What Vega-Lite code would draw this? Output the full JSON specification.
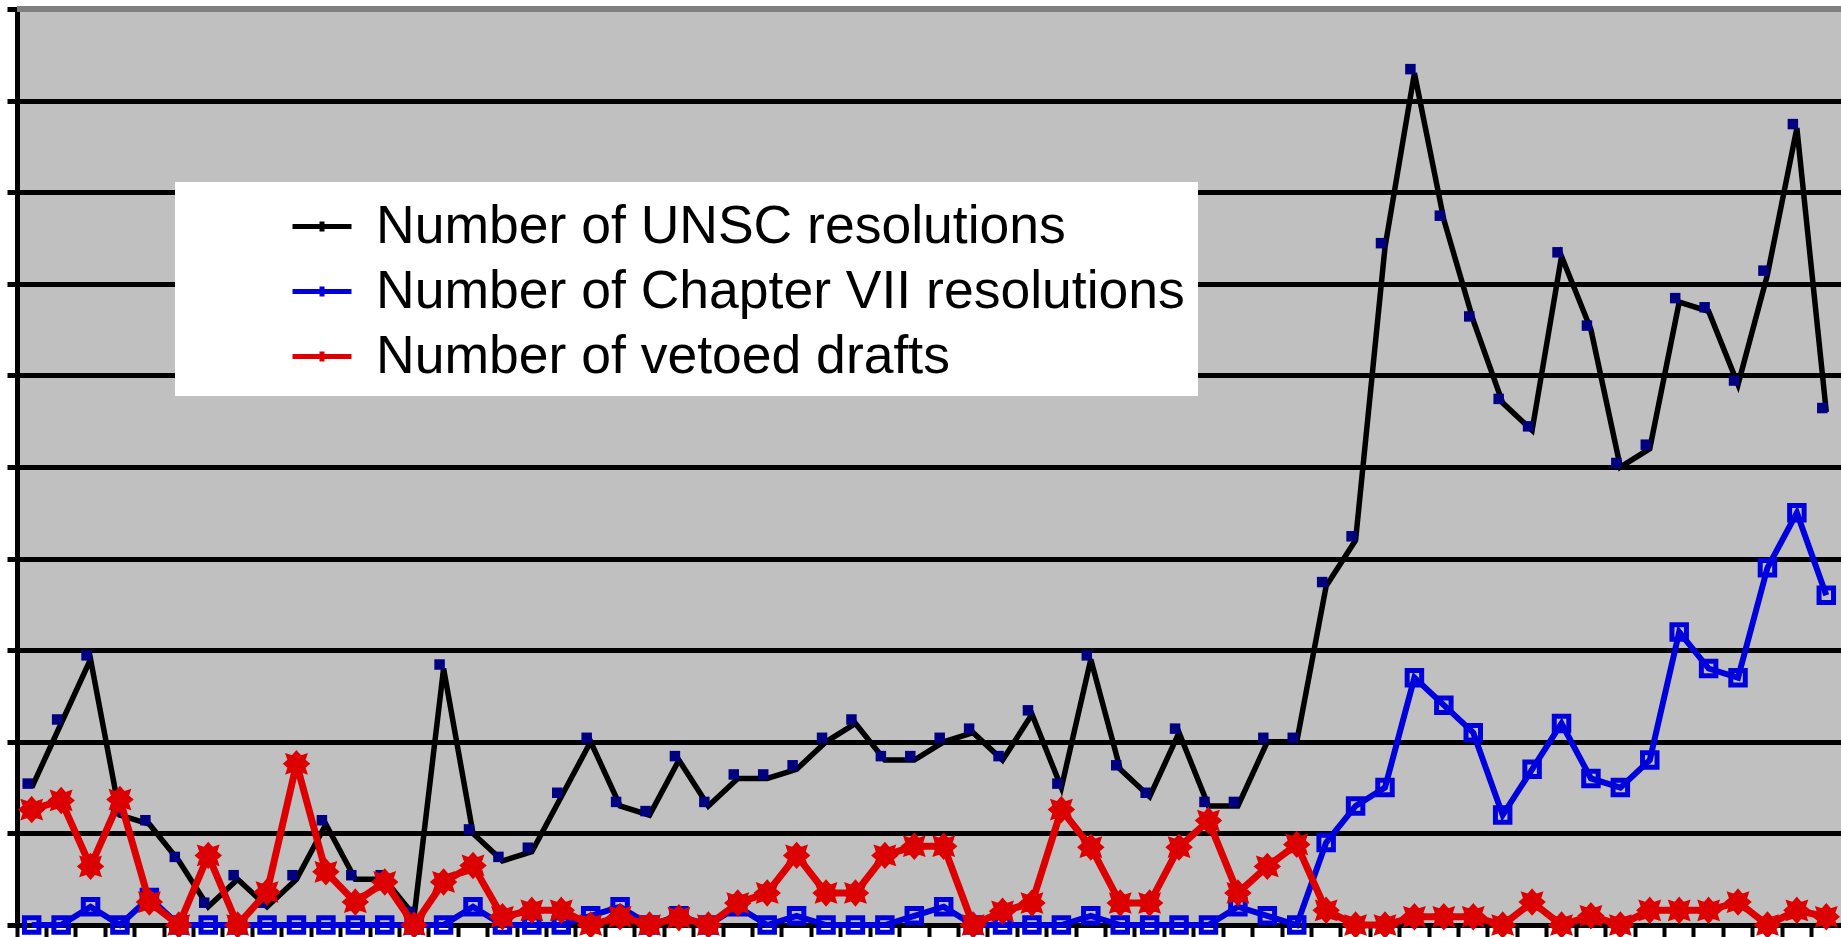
{
  "$schema": "https://vega.github.io/schema/vega-lite/v6.json",
  "autosize": "none",
  "width": 1824,
  "height": 916,
  "padding": {"left": 17, "top": 9, "right": 0, "bottom": 12},
  "background": "white",
  "config": {
    "view": {"fill": "#C0C0C0", "stroke": null},
    "axisY": {"labels": false, "title": null, "tickCount": 10, "tickSize": 10, "tickWidth": 5, "tickColor": "black", "domainColor": "black", "domainWidth": 5, "grid": true, "gridColor": "black", "gridWidth": 5, "gridOpacity": 1},
    "axisX": {"labels": false, "title": null, "tickSize": 12, "tickWidth": 4, "tickColor": "black", "domainColor": "black", "domainWidth": 5, "grid": false}
  },
  "data": {"values": [
    {"year": 1946, "unsc": 15, "ch7": 0, "veto": 12.6},
    {"year": 1947, "unsc": 22, "ch7": 0, "veto": 13.6},
    {"year": 1948, "unsc": 29, "ch7": 2, "veto": 6.4},
    {"year": 1949, "unsc": 12, "ch7": 0, "veto": 13.7},
    {"year": 1950, "unsc": 11, "ch7": 3, "veto": 2.5},
    {"year": 1951, "unsc": 7, "ch7": 0, "veto": 0},
    {"year": 1952, "unsc": 2, "ch7": 0, "veto": 7.6},
    {"year": 1953, "unsc": 5, "ch7": 0, "veto": 0},
    {"year": 1954, "unsc": 2, "ch7": 0, "veto": 3.6},
    {"year": 1955, "unsc": 5, "ch7": 0, "veto": 17.6},
    {"year": 1956, "unsc": 11, "ch7": 0, "veto": 5.8},
    {"year": 1957, "unsc": 5, "ch7": 0, "veto": 2.5},
    {"year": 1958, "unsc": 5, "ch7": 0, "veto": 4.7},
    {"year": 1959, "unsc": 1, "ch7": 0, "veto": 0},
    {"year": 1960, "unsc": 28, "ch7": 0, "veto": 4.7},
    {"year": 1961, "unsc": 10, "ch7": 2, "veto": 6.5},
    {"year": 1962, "unsc": 7, "ch7": 0, "veto": 0.9},
    {"year": 1963, "unsc": 8, "ch7": 0, "veto": 1.6},
    {"year": 1964, "unsc": 14, "ch7": 0, "veto": 1.6},
    {"year": 1965, "unsc": 20, "ch7": 1, "veto": 0},
    {"year": 1966, "unsc": 13, "ch7": 2, "veto": 0.9},
    {"year": 1967, "unsc": 12, "ch7": 0, "veto": 0},
    {"year": 1968, "unsc": 18, "ch7": 1, "veto": 0.8},
    {"year": 1969, "unsc": 13, "ch7": 0, "veto": 0},
    {"year": 1970, "unsc": 16, "ch7": 2, "veto": 2.4},
    {"year": 1971, "unsc": 16, "ch7": 0, "veto": 3.5},
    {"year": 1972, "unsc": 17, "ch7": 1, "veto": 7.6},
    {"year": 1973, "unsc": 20, "ch7": 0, "veto": 3.5},
    {"year": 1974, "unsc": 22, "ch7": 0, "veto": 3.5},
    {"year": 1975, "unsc": 18, "ch7": 0, "veto": 7.6},
    {"year": 1976, "unsc": 18, "ch7": 1, "veto": 8.6},
    {"year": 1977, "unsc": 20, "ch7": 2, "veto": 8.6},
    {"year": 1978, "unsc": 21, "ch7": 0, "veto": 0},
    {"year": 1979, "unsc": 18, "ch7": 0, "veto": 1.5},
    {"year": 1980, "unsc": 23, "ch7": 0, "veto": 2.4},
    {"year": 1981, "unsc": 15, "ch7": 0, "veto": 12.6},
    {"year": 1982, "unsc": 29, "ch7": 1, "veto": 8.5},
    {"year": 1983, "unsc": 17, "ch7": 0, "veto": 2.4},
    {"year": 1984, "unsc": 14, "ch7": 0, "veto": 2.4},
    {"year": 1985, "unsc": 21, "ch7": 0, "veto": 8.5},
    {"year": 1986, "unsc": 13, "ch7": 0, "veto": 11.4},
    {"year": 1987, "unsc": 13, "ch7": 2, "veto": 3.5},
    {"year": 1988, "unsc": 20, "ch7": 1, "veto": 6.4},
    {"year": 1989, "unsc": 20, "ch7": 0, "veto": 8.8},
    {"year": 1990, "unsc": 37, "ch7": 9, "veto": 1.6},
    {"year": 1991, "unsc": 42, "ch7": 13, "veto": 0},
    {"year": 1992, "unsc": 74, "ch7": 15, "veto": 0},
    {"year": 1993, "unsc": 93, "ch7": 27, "veto": 0.9},
    {"year": 1994, "unsc": 77, "ch7": 24, "veto": 0.9},
    {"year": 1995, "unsc": 66, "ch7": 21, "veto": 0.9},
    {"year": 1996, "unsc": 57, "ch7": 12, "veto": 0},
    {"year": 1997, "unsc": 54, "ch7": 17, "veto": 2.5},
    {"year": 1998, "unsc": 73, "ch7": 22, "veto": 0},
    {"year": 1999, "unsc": 65, "ch7": 16, "veto": 1.0},
    {"year": 2000, "unsc": 50, "ch7": 15, "veto": 0},
    {"year": 2001, "unsc": 52, "ch7": 18, "veto": 1.6},
    {"year": 2002, "unsc": 68, "ch7": 32, "veto": 1.6},
    {"year": 2003, "unsc": 67, "ch7": 28, "veto": 1.6},
    {"year": 2004, "unsc": 59, "ch7": 27, "veto": 2.5},
    {"year": 2005, "unsc": 71, "ch7": 39, "veto": 0},
    {"year": 2006, "unsc": 87, "ch7": 45, "veto": 1.6},
    {"year": 2007, "unsc": 56, "ch7": 36, "veto": 0.9}
  ]},
  "layer": [
    {
      "encoding": {
        "x": {"field": "year", "type": "ordinal", "scale": {"type": "band", "paddingInner": 0, "paddingOuter": 0}, "axis": {"bandPosition": 0}}
      },
      "layer": [
        {
          "mark": {"type": "line", "strokeWidth": 5.5},
          "encoding": {
            "y": {"field": "unsc", "type": "quantitative", "scale": {"domain": [0, 100], "nice": false, "zero": true}},
            "color": {"datum": "Number of UNSC resolutions", "type": "nominal",
              "scale": {"domain": ["Number of UNSC resolutions", "Number of Chapter VII resolutions", "Number of vetoed drafts"], "range": ["#000000", "#0000DD", "#DD0000"]},
              "legend": {
                "orient": "none", "legendX": 158, "legendY": 173,
                "fillColor": "white", "padding": 12.5,
                "title": "\u00a0", "titleOrient": "left", "titlePadding": 102.5, "titleFontSize": 10,
                "labelFont": "Liberation Sans", "labelFontSize": 53.5, "labelColor": "black", "labelOffset": 22, "labelLimit": 2000,
                "symbolType": "M-1,0H1M0,-0.17V0.17", "symbolSize": 3481, "symbolStrokeWidth": 5, "rowPadding": 6
              }
            }
          }
        },
        {
          "mark": {"type": "point", "shape": "square", "filled": true, "size": 110, "color": "#000080", "opacity": 1, "xOffset": -4, "yOffset": -4},
          "encoding": {"y": {"field": "unsc", "type": "quantitative"}}
        },
        {
          "mark": {"type": "line", "strokeWidth": 6},
          "encoding": {
            "y": {"field": "ch7", "type": "quantitative"},
            "color": {"datum": "Number of Chapter VII resolutions", "type": "nominal"}
          }
        },
        {
          "mark": {"type": "point", "shape": "square", "filled": false, "size": 210, "strokeWidth": 5, "color": "#0000DD", "opacity": 1},
          "encoding": {"y": {"field": "ch7", "type": "quantitative"}}
        },
        {
          "mark": {"type": "line", "strokeWidth": 7},
          "encoding": {
            "y": {"field": "veto", "type": "quantitative"},
            "color": {"datum": "Number of vetoed drafts", "type": "nominal"}
          }
        },
        {
          "mark": {"type": "point", "shape": "M0,-1L0.35,-0.6L0.8,-0.75L0.65,-0.3L1,0L0.65,0.3L0.8,0.75L0.35,0.6L0,1L-0.35,0.6L-0.8,0.75L-0.65,0.3L-1,0L-0.65,-0.3L-0.8,-0.75L-0.35,-0.6Z", "filled": true, "size": 560, "color": "#DD0000", "opacity": 1, "strokeWidth": 2.5, "stroke": "#DD0000"},
          "encoding": {"y": {"field": "veto", "type": "quantitative"}}
        }
      ]
    },
    {
      "mark": {"type": "rule", "color": "#808080", "strokeWidth": 5},
      "encoding": {"y": {"datum": 100}}
    }
  ]
}
